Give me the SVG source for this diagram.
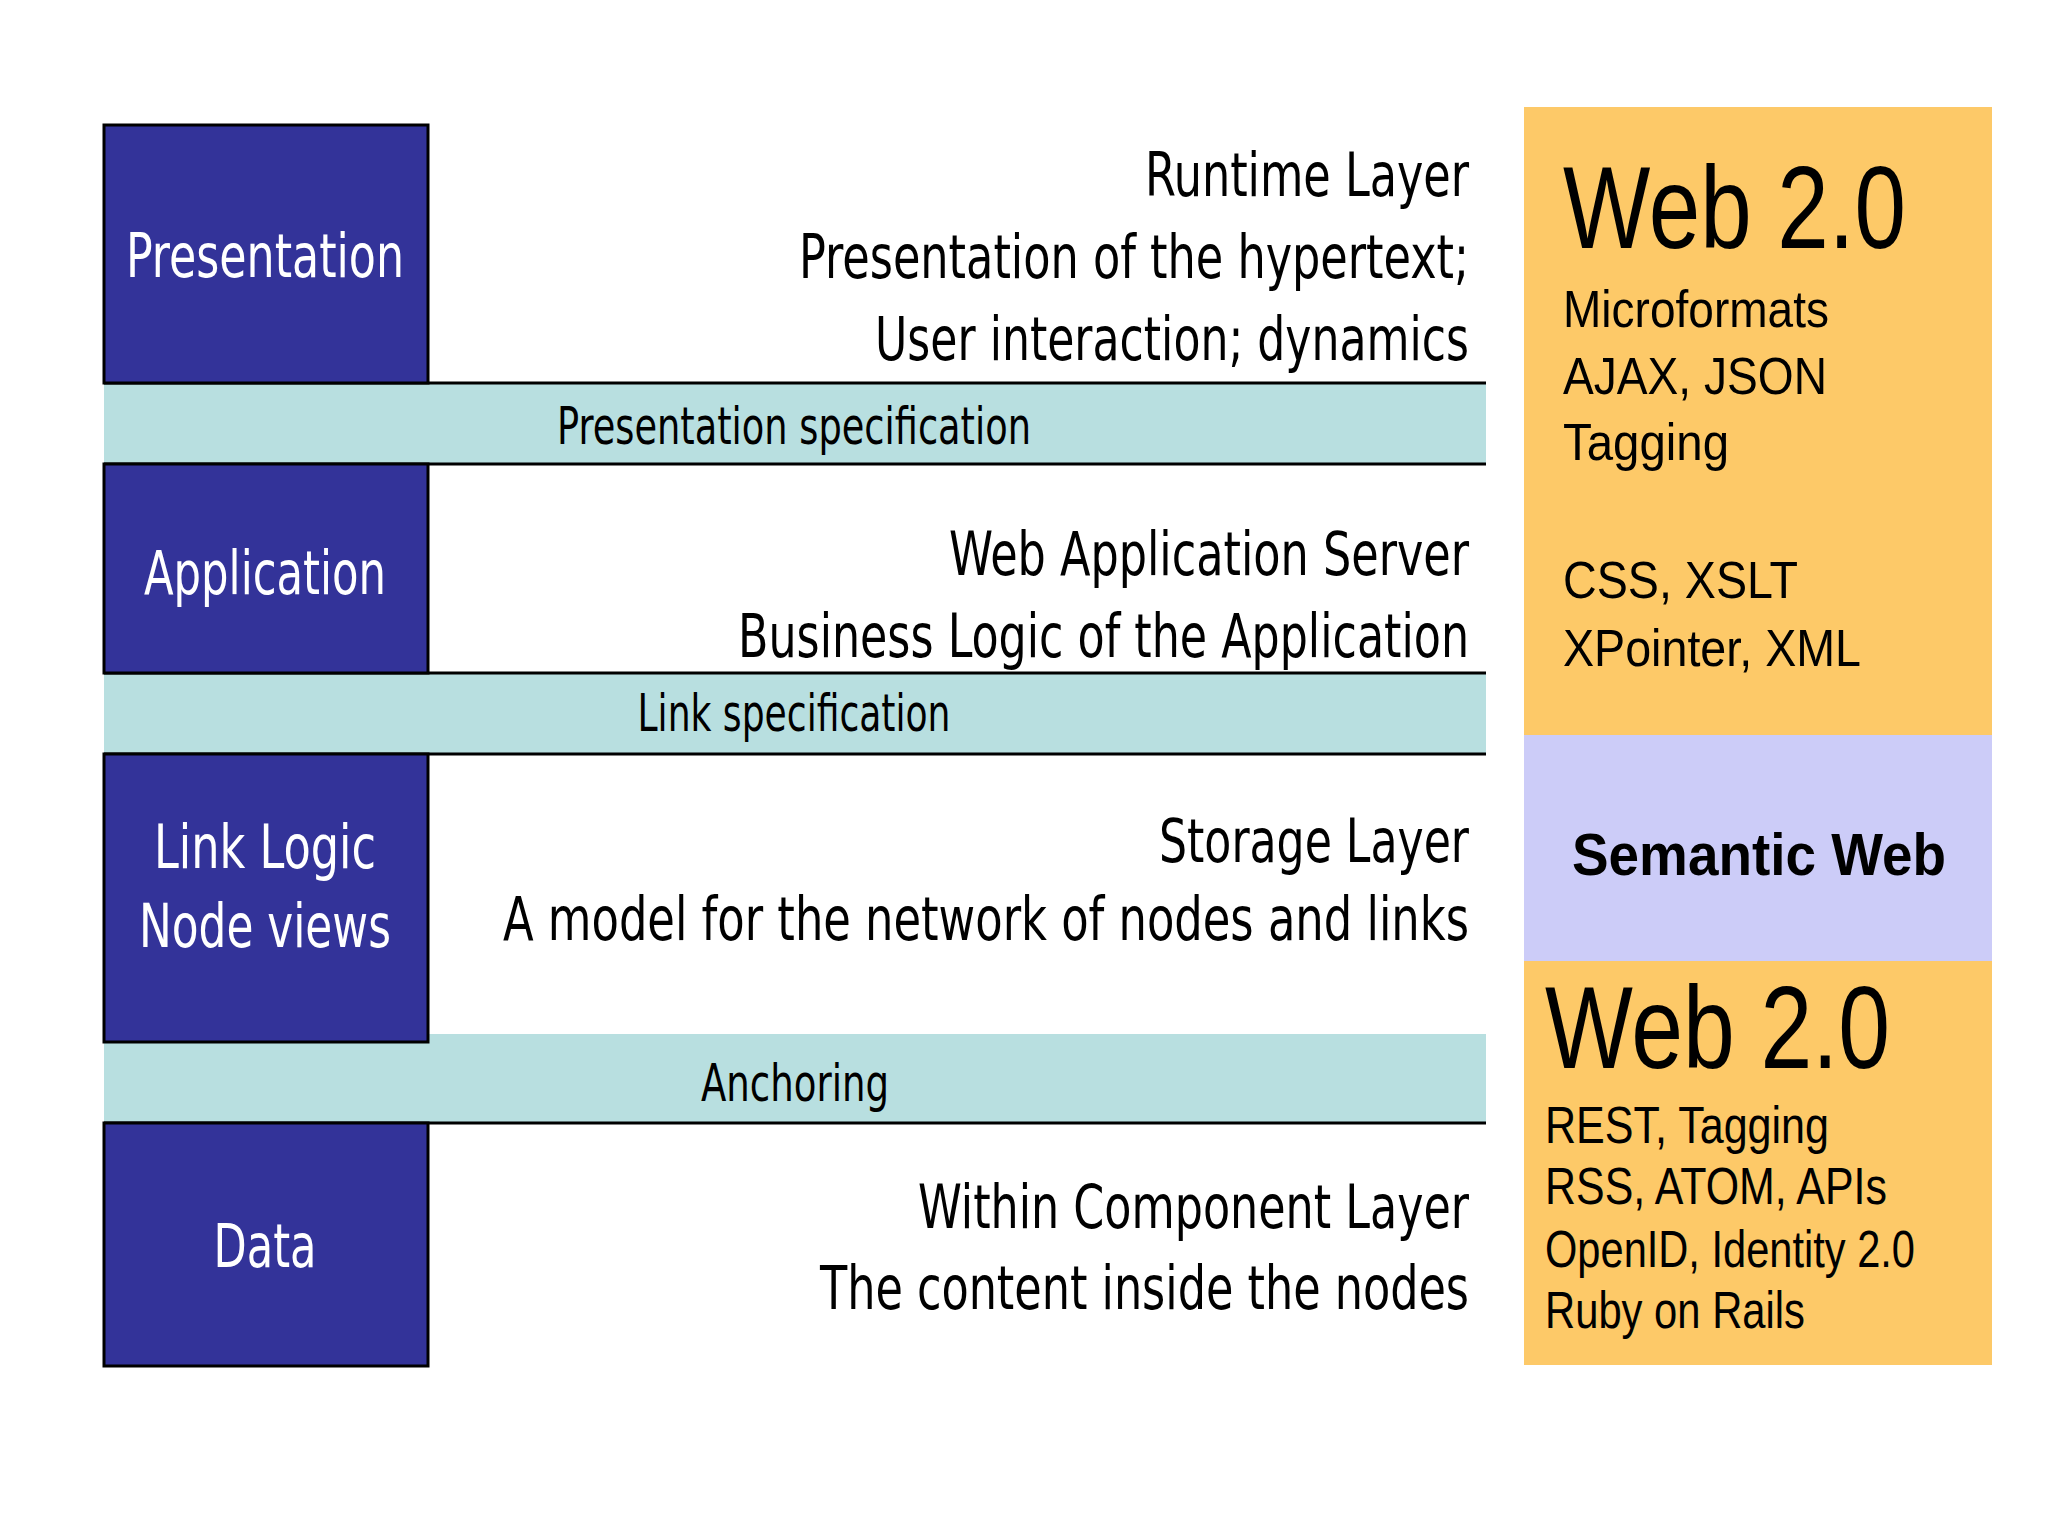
<svg xmlns="http://www.w3.org/2000/svg" width="2048" height="1536" viewBox="0 0 2048 1536">
<style>
.blue{fill:#333399;stroke:#000;stroke-width:3}
.band{fill:#b8dfe0}
.ln{stroke:#000;stroke-width:3}
.t{font-family:"DejaVu Sans Condensed","Liberation Sans",sans-serif;font-size:60px;fill:#000;text-anchor:end}
.b{font-family:"DejaVu Sans Condensed","Liberation Sans",sans-serif;font-size:52px;fill:#000;text-anchor:middle}
.w{font-family:"DejaVu Sans Condensed","Liberation Sans",sans-serif;font-size:60px;fill:#fff;text-anchor:middle}
.r{font-family:"Liberation Sans",Arial,sans-serif;font-size:52px;fill:#000}
.big{font-family:"Liberation Sans",Arial,sans-serif;font-size:116px;fill:#000}
</style>
<rect width="2048" height="1536" fill="#fff"/>
<g id="bands">
<rect class="band" x="104" y="383" width="1382" height="81"/>
<rect class="band" x="104" y="673" width="1382" height="81"/>
<rect class="band" x="104" y="1034" width="1382" height="89"/>
</g>
<g id="connectors">
<line class="ln" x1="104" y1="383" x2="1486" y2="383"/>
<line class="ln" x1="104" y1="464" x2="1486" y2="464"/>
<line class="ln" x1="104" y1="673" x2="1486" y2="673"/>
<line class="ln" x1="104" y1="754" x2="1486" y2="754"/>
<line class="ln" x1="104" y1="1123" x2="1486" y2="1123"/>
</g>
<g id="presentation"><rect class="blue" x="104" y="125" width="324" height="258"/><text class="w" x="265" y="277" textLength="278" lengthAdjust="spacingAndGlyphs">Presentation</text></g>
<g id="application"><rect class="blue" x="104" y="464" width="324" height="209"/><text class="w" x="265" y="594" textLength="242" lengthAdjust="spacingAndGlyphs">Application</text></g>
<g id="linklogic"><rect class="blue" x="104" y="754" width="324" height="288"/><text class="w" x="265" y="868" textLength="222" lengthAdjust="spacingAndGlyphs">Link Logic</text><text class="w" x="265" y="947" textLength="252" lengthAdjust="spacingAndGlyphs">Node views</text></g>
<g id="data"><rect class="blue" x="104" y="1123" width="324" height="243"/><text class="w" x="265" y="1267" textLength="103" lengthAdjust="spacingAndGlyphs">Data</text></g>
<g id="descriptions">
<text class="t" x="1469" y="196" textLength="324" lengthAdjust="spacingAndGlyphs">Runtime Layer</text>
<text class="t" x="1469" y="278" textLength="670" lengthAdjust="spacingAndGlyphs">Presentation of the hypertext;</text>
<text class="t" x="1469" y="360" textLength="594" lengthAdjust="spacingAndGlyphs">User interaction; dynamics</text>
<text class="b" x="794" y="444" textLength="474" lengthAdjust="spacingAndGlyphs">Presentation specification</text>
<text class="t" x="1469" y="575" textLength="520" lengthAdjust="spacingAndGlyphs">Web Application Server</text>
<text class="t" x="1469" y="657" textLength="731" lengthAdjust="spacingAndGlyphs">Business Logic of the Application</text>
<text class="b" x="794" y="731" textLength="313" lengthAdjust="spacingAndGlyphs">Link specification</text>
<text class="t" x="1469" y="862" textLength="310" lengthAdjust="spacingAndGlyphs">Storage Layer</text>
<text class="t" x="1469" y="940" textLength="966" lengthAdjust="spacingAndGlyphs">A model for the network of nodes and links</text>
<text class="b" x="795" y="1101" textLength="188" lengthAdjust="spacingAndGlyphs">Anchoring</text>
<text class="t" x="1469" y="1228" textLength="551" lengthAdjust="spacingAndGlyphs">Within Component Layer</text>
<text class="t" x="1469" y="1309" textLength="649" lengthAdjust="spacingAndGlyphs">The content inside the nodes</text>
</g>
<g id="web20top"><rect x="1524" y="107" width="468" height="628" fill="#fdc968"/>
<text class="big" x="1563" y="248" textLength="343" lengthAdjust="spacingAndGlyphs">Web 2.0</text>
<text class="r" x="1563" y="327" textLength="266" lengthAdjust="spacingAndGlyphs">Microformats</text>
<text class="r" x="1563" y="394" textLength="264" lengthAdjust="spacingAndGlyphs">AJAX, JSON</text>
<text class="r" x="1563" y="460" textLength="166" lengthAdjust="spacingAndGlyphs">Tagging</text>
<text class="r" x="1563" y="598" textLength="235" lengthAdjust="spacingAndGlyphs">CSS, XSLT</text>
<text class="r" x="1563" y="666" textLength="298" lengthAdjust="spacingAndGlyphs">XPointer, XML</text>
</g>
<g id="semantic"><rect x="1524" y="735" width="468" height="226" fill="#ccccf8"/>
<text x="1572" y="875" font-family="Liberation Sans,Arial,sans-serif" font-weight="bold" font-size="60" textLength="374" lengthAdjust="spacingAndGlyphs">Semantic Web</text></g>
<g id="web20bottom"><rect x="1524" y="961" width="468" height="404" fill="#fdc968"/>
<text class="big" x="1545" y="1068" textLength="345" lengthAdjust="spacingAndGlyphs">Web 2.0</text>
<text class="r" x="1545" y="1143" textLength="284" lengthAdjust="spacingAndGlyphs">REST, Tagging</text>
<text class="r" x="1545" y="1204" textLength="342" lengthAdjust="spacingAndGlyphs">RSS, ATOM, APIs</text>
<text class="r" x="1545" y="1267" textLength="370" lengthAdjust="spacingAndGlyphs">OpenID, Identity 2.0</text>
<text class="r" x="1545" y="1328" textLength="260" lengthAdjust="spacingAndGlyphs">Ruby on Rails</text>
</g>
</svg>
